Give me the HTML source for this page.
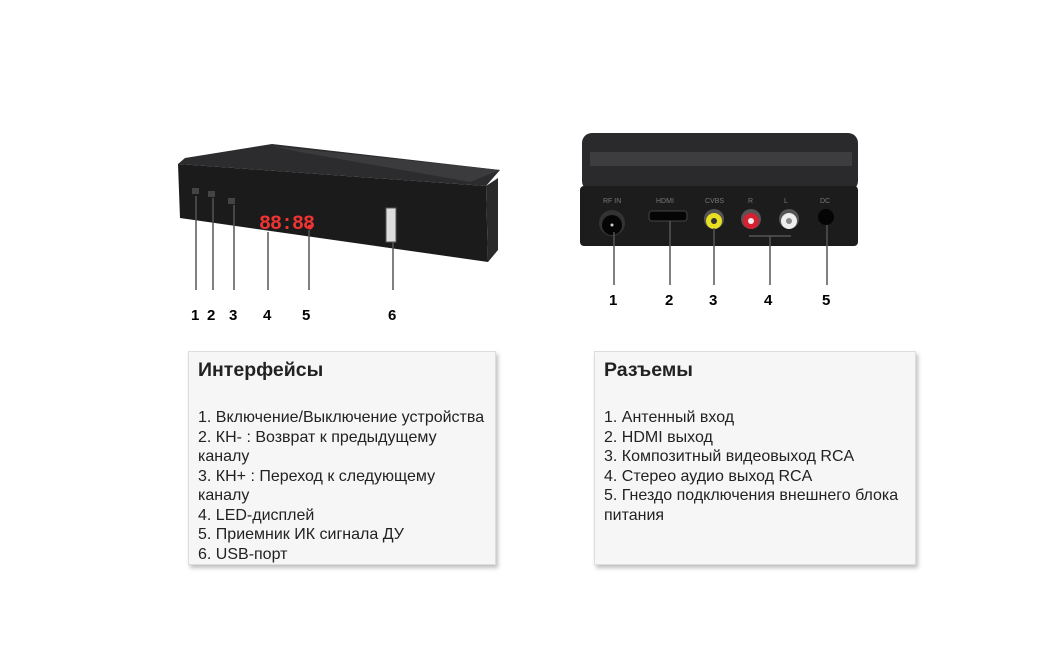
<!DOCTYPE html>
<html><head><meta charset="utf-8"><style>
body{margin:0;width:1058px;height:657px;background:#fff;position:relative;overflow:hidden;font-family:"Liberation Sans","DejaVu Sans",sans-serif}
.box{position:absolute;top:351px;height:214px;background:#f6f6f6;border:1px solid #ddd;box-shadow:2px 3px 4px rgba(0,0,0,.25);box-sizing:border-box;padding:6px 9px;color:#222}
.box h3{margin:0;font-size:19.5px;font-weight:bold;line-height:24px}
.box p{margin:26px 0 0;font-size:16px;line-height:19.5px}
</style></head><body>
<svg width="1058" height="657" style="position:absolute;left:0;top:0" font-family="Liberation Sans,sans-serif" font-weight="bold" font-size="15">
<polygon points="185,158 272,144 500,170 486,186 178,164" fill="#2c2c2e"/>
<polygon points="272,146 500,170 470,182 300,152" fill="#3b3b3d"/>
<polygon points="178,164 486,186 488,262 180,218" fill="#1b1b1c"/>
<polygon points="486,186 498,178 498,250 488,262" fill="#2a2a2a"/>
<rect x="192" y="188" width="7" height="6" fill="#444"/><rect x="208" y="191" width="7" height="6" fill="#444"/><rect x="228" y="198" width="7" height="6" fill="#444"/>
<text x="259" y="229" fill="#e33" font-size="20" font-family="Liberation Mono,monospace" letter-spacing="-1">88:88</text>
<circle cx="310" cy="227" r="2.5" fill="#e33"/>
<rect x="386" y="208" width="10" height="34" fill="#ddd" stroke="#555"/>
<g stroke="#555" stroke-width="1.5"><line x1="196" y1="196" x2="196" y2="290"/><line x1="213" y1="198" x2="213" y2="290"/><line x1="234" y1="205" x2="234" y2="290"/><line x1="268" y1="232" x2="268" y2="290"/><line x1="309" y1="230" x2="309" y2="290"/><line x1="393" y1="242" x2="393" y2="290"/></g>
<text x="191" y="320">1</text><text x="207" y="320">2</text><text x="229" y="320">3</text><text x="263" y="320">4</text><text x="302" y="320">5</text><text x="388" y="320">6</text>
<rect x="582" y="133" width="276" height="58" rx="10" fill="#2a2a2c"/>
<rect x="590" y="152" width="262" height="14" fill="#3d3d3f"/>
<rect x="580" y="186" width="278" height="60" rx="4" fill="#1c1c1d"/>
<g fill="#777" font-size="7" font-weight="normal"><text x="603" y="203">RF IN</text><text x="656" y="203">HDMI</text><text x="705" y="203">CVBS</text><text x="748" y="203">R</text><text x="784" y="203">L</text><text x="820" y="203">DC</text></g>
<circle cx="612" cy="223" r="13" fill="#333"/><circle cx="612" cy="225" r="10" fill="#050505"/><circle cx="612" cy="225" r="1.5" fill="#ccc"/>
<rect x="649" y="211" width="38" height="10" rx="3" fill="#050505" stroke="#444"/>
<circle cx="714" cy="219" r="10" fill="#555"/><circle cx="714" cy="221" r="8" fill="#e8e020"/><circle cx="714" cy="221" r="3" fill="#333"/>
<circle cx="751" cy="219" r="10" fill="#555"/><circle cx="751" cy="221" r="8" fill="#d42030"/><circle cx="751" cy="221" r="3" fill="#eee"/>
<circle cx="789" cy="219" r="10" fill="#555"/><circle cx="789" cy="221" r="8" fill="#eee"/><circle cx="789" cy="221" r="3" fill="#888"/>
<circle cx="826" cy="217" r="8" fill="#050505"/>
<g stroke="#555" stroke-width="1.5"><line x1="614" y1="232" x2="614" y2="285"/><line x1="670" y1="221" x2="670" y2="285"/><line x1="714" y1="228" x2="714" y2="285"/><line x1="749" y1="236" x2="791" y2="236"/><line x1="770" y1="236" x2="770" y2="285"/><line x1="827" y1="225" x2="827" y2="285"/></g>
<text x="609" y="305">1</text><text x="665" y="305">2</text><text x="709" y="305">3</text><text x="764" y="305">4</text><text x="822" y="305">5</text>
</svg>
<div class="box" style="left:188px;width:308px"><h3>Интерфейсы</h3><p>1. Включение/Выключение устройства<br>2. КН- : Возврат к предыдущему<br>каналу<br>3. КН+ : Переход к следующему<br>каналу<br>4. LED-дисплей<br>5. Приемник ИК сигнала ДУ<br>6. USB-порт</p></div>
<div class="box" style="left:594px;width:322px"><h3>Разъемы</h3><p>1. Антенный вход<br>2. HDMI выход<br>3. Композитный видеовыход RCA<br>4. Стерео аудио выход RCA<br>5. Гнездо подключения внешнего блока<br>питания</p></div>
</body></html>
